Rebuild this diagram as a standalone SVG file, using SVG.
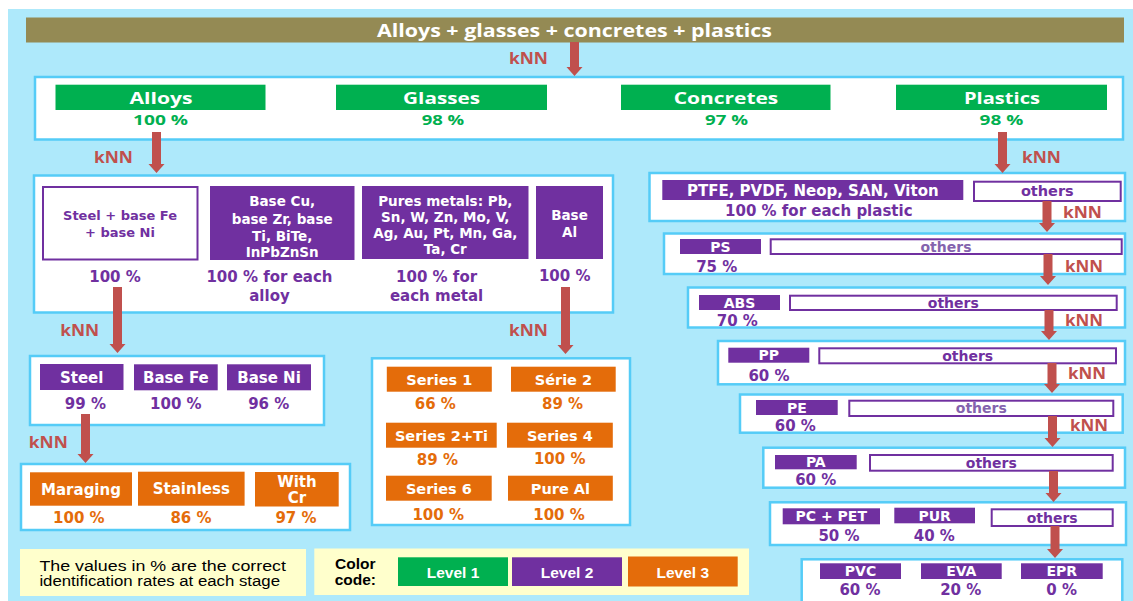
<svg xmlns="http://www.w3.org/2000/svg" width="1133" height="601" viewBox="0 0 1133 601">
<style>
text{text-anchor:middle}
.lvl{fill:#fff;stroke:#55CCF7;stroke-width:2.5}
.g{fill:#00B050}
.p{fill:#7030A0}
.o{fill:#E46C0A}
.oth{fill:#fff;stroke:#7030A0;stroke-width:2}
.wb{fill:#fff;stroke:#7030A0;stroke-width:2}
.cal{font-family:'Open Sans',Lato,sans-serif;font-weight:bold}
.dv{font-family:'DejaVu Sans',Verdana,sans-serif;font-weight:bold}
.ar{font-family:'Liberation Sans',Arial,sans-serif}
.w{fill:#fff}
.tp{fill:#7030A0}
.tpl{fill:#8463AE}
.to{fill:#E46C0A}
.tg{fill:#00B050}
.knn{fill:#C0504D;font-size:15.5px}
.arrow{fill:#C0504D}
.yel{fill:#FFFFCC}
</style>
<rect x="8" y="9" width="1125" height="592" fill="#AEE9FB"/>

<g id="title">
<rect x="26" y="17.5" width="1098" height="25" fill="#948A54"/>
<text class="cal w" x="574.5" y="36.5" font-size="17" textLength="395" lengthAdjust="spacingAndGlyphs">Alloys + glasses + concretes + plastics</text>
</g>

<g id="level1">
<rect class="lvl" x="35" y="77" width="1088" height="62.5"/>
<rect class="g" x="55.5" y="84.7" width="210" height="25.3"/>
<text class="cal w" x="161" y="103.5" font-size="16.5" textLength="63" lengthAdjust="spacingAndGlyphs">Alloys</text>
<text class="cal tg" x="160.6" y="125.3" font-size="15" textLength="55" lengthAdjust="spacingAndGlyphs">100 %</text>
<rect class="g" x="336" y="84.7" width="211" height="25.3"/>
<text class="cal w" x="441.6" y="103.5" font-size="16.5" textLength="77" lengthAdjust="spacingAndGlyphs">Glasses</text>
<text class="cal tg" x="443" y="125.3" font-size="15" textLength="42.6" lengthAdjust="spacingAndGlyphs">98 %</text>
<rect class="g" x="621" y="84.7" width="209.5" height="25.3"/>
<text class="cal w" x="726" y="103.5" font-size="16.5" textLength="104.6" lengthAdjust="spacingAndGlyphs">Concretes</text>
<text class="cal tg" x="726.6" y="125.3" font-size="15" textLength="43" lengthAdjust="spacingAndGlyphs">97 %</text>
<rect class="g" x="896" y="84.7" width="211" height="25.3"/>
<text class="cal w" x="1002" y="103.5" font-size="16.5" textLength="76" lengthAdjust="spacingAndGlyphs">Plastics</text>
<text class="cal tg" x="1001.5" y="125.3" font-size="15" textLength="43.8" lengthAdjust="spacingAndGlyphs">98 %</text>
</g>

<g id="alloys-level2">
<rect class="lvl" x="34" y="175.5" width="579" height="137"/>
<rect class="wb" x="43" y="187" width="154.5" height="72.5"/>
<text class="dv tp" font-size="13"><tspan x="120" y="220.4">Steel + base Fe</tspan><tspan x="120" y="236.7">+ base Ni</tspan></text>
<rect class="p" x="210" y="186" width="144.5" height="74"/>
<text class="dv w" font-size="13.5"><tspan x="282.2" y="205.6">Base Cu,</tspan><tspan x="282.2" y="223.9">base Zr, base</tspan><tspan x="282.2" y="240.6">Ti, BiTe,</tspan><tspan x="282.2" y="256.6">InPbZnSn</tspan></text>
<rect class="p" x="362" y="186" width="166.5" height="73"/>
<text class="dv w" font-size="13.5"><tspan x="445.3" y="205.6">Pures metals: Pb,</tspan><tspan x="445.3" y="221.6">Sn, W, Zn, Mo, V,</tspan><tspan x="445.3" y="237.6">Ag, Au, Pt, Mn, Ga,</tspan><tspan x="445.3" y="253.9">Ta, Cr</tspan></text>
<rect class="p" x="536" y="186" width="67" height="73"/>
<text class="dv w" font-size="13.5"><tspan x="569.5" y="220">Base</tspan><tspan x="569.5" y="236.6">Al</tspan></text>
<text class="dv tp" font-size="15" x="115" y="281.5">100 %</text>
<text class="dv tp" font-size="15"><tspan x="269.5" y="281.5">100 % for each</tspan><tspan x="269.5" y="300.5">alloy</tspan></text>
<text class="dv tp" font-size="15"><tspan x="436.6" y="281.5">100 % for</tspan><tspan x="436.6" y="300.5">each metal</tspan></text>
<text class="dv tp" font-size="15" x="564.7" y="280.5">100 %</text>
</g>

<g id="steel-level">
<rect class="lvl" x="30" y="356" width="294" height="69"/>
<rect class="p" x="40" y="364" width="83.5" height="26"/>
<text class="dv w" font-size="15" x="81.7" y="382.5">Steel</text>
<rect class="p" x="134" y="364.3" width="83.7" height="26"/>
<text class="dv w" font-size="15" x="175.9" y="382.5">Base Fe</text>
<rect class="p" x="227" y="364.3" width="84" height="26"/>
<text class="dv w" font-size="15" x="269" y="382.5">Base Ni</text>
<text class="dv tp" font-size="15" x="85.4" y="409">99 %</text>
<text class="dv tp" font-size="15" x="175.8" y="409">100 %</text>
<text class="dv tp" font-size="15" x="268.7" y="409">96 %</text>
</g>

<g id="steel-level3">
<rect class="lvl" x="21" y="464" width="329" height="66"/>
<rect class="o" x="30" y="472.3" width="102" height="33.4"/>
<text class="dv w" font-size="15" x="81" y="494.8">Maraging</text>
<rect class="o" x="138" y="471.7" width="106.6" height="34"/>
<text class="dv w" font-size="15" x="191.3" y="493.8">Stainless</text>
<rect class="o" x="255" y="472" width="83.7" height="34.5"/>
<text class="dv w" font-size="15"><tspan x="296.9" y="486.5">With</tspan><tspan x="296.9" y="503.2">Cr</tspan></text>
<text class="dv to" font-size="15" x="78.8" y="523.2">100 %</text>
<text class="dv to" font-size="15" x="191" y="523.2">86 %</text>
<text class="dv to" font-size="15" x="296" y="523.2">97 %</text>
</g>

<g id="al-series">
<rect class="lvl" x="372" y="358.3" width="258" height="166.7"/>
<rect class="o" x="386.8" y="366.7" width="105" height="25"/>
<text class="dv w" font-size="14.5" x="439.3" y="384.5">Series 1</text>
<rect class="o" x="511" y="366.7" width="104.7" height="25"/>
<text class="dv w" font-size="14.5" x="563.4" y="384.5">Série 2</text>
<text class="dv to" font-size="15" x="435.3" y="408.8">66 %</text>
<text class="dv to" font-size="15" x="562.6" y="408.8">89 %</text>
<rect class="o" x="386" y="422.7" width="110.7" height="25"/>
<text class="dv w" font-size="14.5" x="441.4" y="440.5">Series 2+Ti</text>
<rect class="o" x="507" y="422.7" width="105.8" height="25"/>
<text class="dv w" font-size="14.5" x="559.9" y="440.5">Series 4</text>
<text class="dv to" font-size="15" x="437.4" y="464.8">89 %</text>
<text class="dv to" font-size="15" x="559.7" y="463.8">100 %</text>
<rect class="o" x="386" y="475.7" width="105.7" height="25"/>
<text class="dv w" font-size="14.5" x="438.9" y="493.5">Series 6</text>
<rect class="o" x="508" y="475.7" width="104.8" height="25"/>
<text class="dv w" font-size="14.5" x="560.4" y="493.5">Pure Al</text>
<text class="dv to" font-size="15" x="438.2" y="519.5">100 %</text>
<text class="dv to" font-size="15" x="559" y="519.5">100 %</text>
</g>

<g id="plastics-1">
<rect class="lvl" x="649.5" y="173" width="475.5" height="48"/>
<rect class="p" x="662.3" y="180" width="301" height="20"/>
<text class="dv w" font-size="15" x="812.8" y="195.5">PTFE, PVDF, Neop, SAN, Viton</text>
<rect class="oth" x="974" y="181.7" width="146.7" height="19.3"/>
<text class="dv tp" font-size="14.5" x="1047.3" y="196.3">others</text>
<text class="dv tp" font-size="15" x="818.8" y="216.2">100 % for each plastic</text>
</g>

<g id="plastics-ps">
<rect class="lvl" x="664" y="233.5" width="461" height="40.5"/>
<rect class="p" x="680" y="239" width="81" height="15"/>
<text class="dv w" font-size="14" x="720.5" y="251.6">PS</text>
<rect class="oth" x="770.7" y="239.3" width="351" height="14.7"/>
<text class="dv tpl" font-size="14" x="946" y="251.6">others</text>
<text class="dv tp" font-size="15" x="716.7" y="271.5">75 %</text>
</g>

<g id="plastics-abs">
<rect class="lvl" x="688" y="287.5" width="437" height="40"/>
<rect class="p" x="699" y="295" width="81" height="15"/>
<text class="dv w" font-size="14" x="739.5" y="307.6">ABS</text>
<rect class="oth" x="790" y="295.7" width="326.7" height="14.3"/>
<text class="dv tp" font-size="14" x="953.3" y="307.6">others</text>
<text class="dv tp" font-size="15" x="737.3" y="325.5">70 %</text>
</g>

<g id="plastics-pp">
<rect class="lvl" x="718" y="341" width="407" height="43.3"/>
<rect class="p" x="728.3" y="347.7" width="81" height="15"/>
<text class="dv w" font-size="14" x="768.8" y="360.3">PP</text>
<rect class="oth" x="819.3" y="348.3" width="296.7" height="15"/>
<text class="dv tp" font-size="14" x="967.7" y="360.6">others</text>
<text class="dv tp" font-size="15" x="769" y="380.5">60 %</text>
</g>

<g id="plastics-pe">
<rect class="lvl" x="740" y="394.5" width="382.7" height="38.2"/>
<rect class="p" x="756" y="400" width="81.7" height="15"/>
<text class="dv w" font-size="14" x="796.8" y="412.6">PE</text>
<rect class="oth" x="849.3" y="400.7" width="264" height="15.3"/>
<text class="dv tpl" font-size="14" x="981.3" y="413">others</text>
<text class="dv tp" font-size="15" x="795.3" y="430.5">60 %</text>
</g>

<g id="plastics-pa">
<rect class="lvl" x="763.3" y="447.7" width="361.7" height="40"/>
<rect class="p" x="775" y="455" width="81.7" height="14.3"/>
<text class="dv w" font-size="14" x="815.8" y="467.2">PA</text>
<rect class="oth" x="870" y="455" width="242.7" height="15.7"/>
<text class="dv tp" font-size="14" x="991.3" y="467.8">others</text>
<text class="dv tp" font-size="15" x="815.7" y="484.5">60 %</text>
</g>

<g id="plastics-pc">
<rect class="lvl" x="770" y="502.3" width="356" height="42.7"/>
<rect class="p" x="782.7" y="508.3" width="97.3" height="16"/>
<text class="dv w" font-size="14" x="831.3" y="521.3">PC + PET</text>
<rect class="p" x="894.3" y="507.7" width="80.7" height="15.6"/>
<text class="dv w" font-size="14" x="934.6" y="520.5">PUR</text>
<rect class="oth" x="991.7" y="509.3" width="121" height="16.7"/>
<text class="dv tp" font-size="14" x="1052.2" y="522.6">others</text>
<text class="dv tp" font-size="15" x="839" y="540.5">50 %</text>
<text class="dv tp" font-size="15" x="934.3" y="540.5">40 %</text>
</g>

<g id="plastics-pvc">
<rect class="lvl" x="801.7" y="559.3" width="320.6" height="50"/>
<rect class="p" x="820" y="563.3" width="81" height="15.7"/>
<text class="dv w" font-size="14" x="860.5" y="576.2">PVC</text>
<rect class="p" x="921" y="563.3" width="80.7" height="15.7"/>
<text class="dv w" font-size="14" x="961.3" y="576.2">EVA</text>
<rect class="p" x="1021" y="563.3" width="81.7" height="15.7"/>
<text class="dv w" font-size="14" x="1061.8" y="576.2">EPR</text>
<text class="dv tp" font-size="15" x="860" y="594.8">60 %</text>
<text class="dv tp" font-size="15" x="960.7" y="594.8">20 %</text>
<text class="dv tp" font-size="15" x="1061.7" y="594.8">0 %</text>
</g>

<g id="legend-note">
<rect class="yel" x="20" y="549" width="286" height="47"/>
<text class="ar" font-size="15.5" fill="#000" style="text-anchor:start"><tspan x="39.4" y="570.7" textLength="246.6" lengthAdjust="spacingAndGlyphs">The values in % are the correct</tspan><tspan x="39.4" y="586.4" textLength="240.6" lengthAdjust="spacingAndGlyphs">identification rates at each stage</tspan></text>
</g>

<g id="legend-colors">
<rect class="yel" x="314.3" y="548.5" width="434.7" height="46.5"/>
<text class="ar" font-size="15.5" font-weight="bold" fill="#000"><tspan x="355.3" y="569.3">Color</tspan><tspan x="355.3" y="585">code:</tspan></text>
<rect class="g" x="398" y="557.3" width="110" height="28.7"/>
<text class="ar w" font-size="15.5" font-weight="bold" x="453" y="578">Level 1</text>
<rect class="p" x="512" y="557.3" width="110" height="28.7"/>
<text class="ar w" font-size="15.5" font-weight="bold" x="567" y="578">Level 2</text>
<rect class="o" x="628" y="556.5" width="109.7" height="30"/>
<text class="ar w" font-size="15.5" font-weight="bold" x="682.8" y="578">Level 3</text>
</g>

<g id="connectors">
<polygon class="arrow" points="570,42 579,42 579,67 582.5,67 574.5,76 566.5,67 570,67"/>
<polygon class="arrow" points="152,132 161,132 161,164 164.5,164 156.5,173 148.5,164 152,164"/>
<polygon class="arrow" points="998,132 1007,132 1007,164 1010.5,164 1002.5,173 994.5,164 998,164"/>
<polygon class="arrow" points="113,287 122,287 122,344 125.5,344 117.5,353 109.5,344 113,344"/>
<polygon class="arrow" points="561,287 570,287 570,345 573.5,345 565.5,354 557.5,345 561,345"/>
<polygon class="arrow" points="81,414 90,414 90,454 93.5,454 85.5,463 77.5,454 81,454"/>
<polygon class="arrow" points="1042.5,201 1051.5,201 1051.5,223 1055,223 1047,232 1039,223 1042.5,223"/>
<polygon class="arrow" points="1043.5,254 1052.5,254 1052.5,276 1056,276 1048,285 1040,276 1043.5,276"/>
<polygon class="arrow" points="1044.5,310 1053.5,310 1053.5,331 1057,331 1049,340 1041,331 1044.5,331"/>
<polygon class="arrow" points="1047.5,363 1056.5,363 1056.5,384 1060,384 1052,393 1044,384 1047.5,384"/>
<polygon class="arrow" points="1048,416 1057,416 1057,438 1060.5,438 1052.5,447 1044.5,438 1048,438"/>
<polygon class="arrow" points="1049,471 1058,471 1058,493 1061.5,493 1053.5,502 1045.5,493 1049,493"/>
<polygon class="arrow" points="1050.5,526 1059.5,526 1059.5,549 1063,549 1055,558 1047,549 1050.5,549"/>
<text class="cal knn" x="528.5" y="64" textLength="39" lengthAdjust="spacingAndGlyphs">kNN</text>
<text class="cal knn" x="113.5" y="163" textLength="39" lengthAdjust="spacingAndGlyphs">kNN</text>
<text class="cal knn" x="1041.5" y="163" textLength="39" lengthAdjust="spacingAndGlyphs">kNN</text>
<text class="cal knn" x="79.7" y="336" textLength="39" lengthAdjust="spacingAndGlyphs">kNN</text>
<text class="cal knn" x="528.5" y="336" textLength="39" lengthAdjust="spacingAndGlyphs">kNN</text>
<text class="cal knn" x="48.3" y="447.7" textLength="39" lengthAdjust="spacingAndGlyphs">kNN</text>
<text class="cal knn" x="1082.5" y="218" textLength="39" lengthAdjust="spacingAndGlyphs">kNN</text>
<text class="cal knn" x="1084" y="271.7" textLength="38" lengthAdjust="spacingAndGlyphs">kNN</text>
<text class="cal knn" x="1084" y="326" textLength="38" lengthAdjust="spacingAndGlyphs">kNN</text>
<text class="cal knn" x="1087" y="379.3" textLength="38" lengthAdjust="spacingAndGlyphs">kNN</text>
<text class="cal knn" x="1089" y="430.7" textLength="38" lengthAdjust="spacingAndGlyphs">kNN</text>
</g>
</svg>
